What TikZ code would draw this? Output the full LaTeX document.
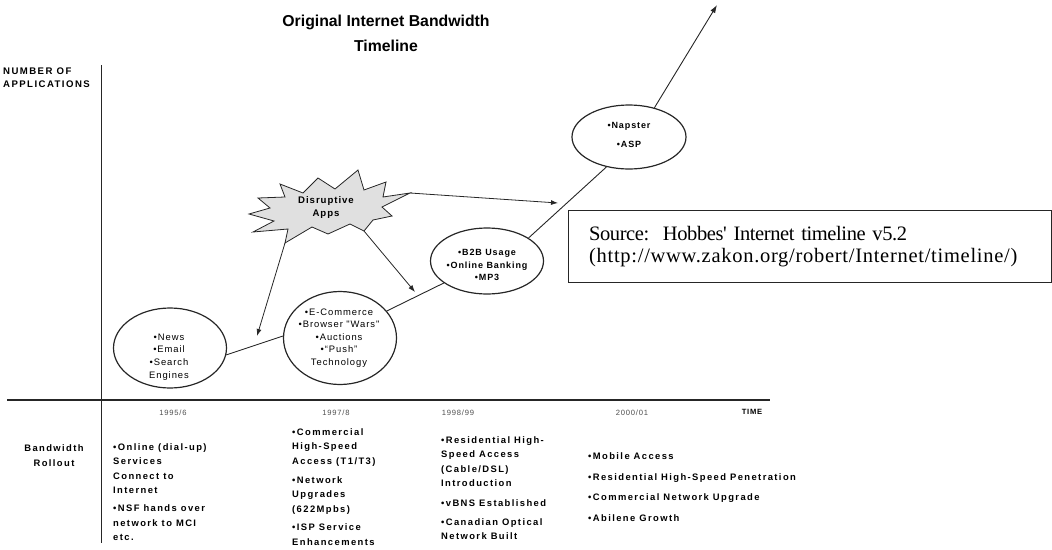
\documentclass[tikz,border=0pt]{standalone}
\usepackage{fontspec}
\setmainfont{Liberation Sans}
\newfontfamily\sourcefont{Liberation Serif}[LetterSpace=3.5]
\newfontfamily\spacedsans{Liberation Sans}[LetterSpace=10]
\newfontfamily\widesans{Liberation Sans}[LetterSpace=15]
\usetikzlibrary{shapes.geometric,arrows.meta}

\tikzset{
  ink/.style={draw=black!85},
  bubble/.style={ellipse, ink, line width=1.2pt, inner sep=0pt},
  bubbletext/.style={align=center, inner sep=0pt, font=\spacedsans\fontsize{9.4}{12.6}\selectfont},
  boldbubbletext/.style={align=center, inner sep=0pt, font=\spacedsans\bfseries\fontsize{9}{12.5}\selectfont},
  trend/.style={ink, line width=0.9pt},
  pointer/.style={ink, line width=0.8pt, -{Latex[length=7pt,width=5pt]}},
  yearlabel/.style={inner sep=0pt, text=black!70, font=\spacedsans\fontsize{7.6}{9}\selectfont},
  rollout/.style={anchor=north west, align=left, inner sep=0pt,
    font=\widesans\bfseries\fontsize{9.4}{14.4}\selectfont},
}

\begin{document}
\begin{tikzpicture}[x=1pt, y=-1pt]
\useasboundingbox (0,0) rectangle (1052,549);

% title
\node[align=center, inner sep=0pt, font=\bfseries\fontsize{15.8}{25}\selectfont] (title) at (386,33) {Original Internet Bandwidth\\Timeline};

% axes
\node[anchor=north west, align=left, inner sep=0pt, font=\widesans\bfseries\fontsize{9.6}{13}\selectfont] (ylabel) at (3,67.5) {NUMBER OF\\APPLICATIONS};
\draw[ink, line width=0.9pt] (101,65) -- (101,543);
\draw[ink, line width=2pt] (7,400) -- (770,400);

% application bubbles
\node[bubble, minimum width=113pt, minimum height=80pt] (e1) at (170,348) {};
\node[bubbletext] (t1) at (169,357) {\textbullet News\\\textbullet Email\\\textbullet Search\\Engines};

\node[bubble, minimum width=113pt, minimum height=93pt] (e2) at (340,338) {};
\node[bubbletext] (t2) at (339,338) {\textbullet E-Commerce\\\textbullet Browser "Wars"\\\textbullet Auctions\\\textbullet “Push”\\Technology};

\node[bubble, minimum width=113pt, minimum height=66pt] (e3) at (487,261) {};
\node[boldbubbletext] (t3) at (487,265) {\textbullet B2B Usage\\\textbullet Online Banking\\\textbullet MP3};

\node[bubble, minimum width=114pt, minimum height=64pt] (e4) at (629,137) {};
\node[boldbubbletext, font=\spacedsans\bfseries\fontsize{9}{19}\selectfont] (t4) at (629,134.5) {\textbullet Napster\\\textbullet ASP};

% growth line
\coordinate (top) at (717,5);
\draw[trend] (e1.-7) -- (e2.178);
\draw[trend] (e2.30) -- (e3.207);
\draw[trend] (e3.29) -- (e4.233);
\draw[trend, -{Latex[length=8pt,width=5.5pt]}] (e4.49) -- (top);

% disruptive apps burst
\coordinate (b1) at (280,184);
\coordinate (b2) at (318,178);
\coordinate (b3) at (358,170);
\coordinate (b4) at (386,182);
\coordinate (b5) at (410,193);
\coordinate (b6) at (392,216);
\coordinate (b7) at (364,231);
\coordinate (b8) at (328,234);
\coordinate (b9) at (285,243);
\coordinate (b10) at (253,232);
\coordinate (b11) at (249,214);
\coordinate (b12) at (258,198);
\draw[ink, fill=black!12, line width=0.8pt, line join=miter]
  (b1) -- (303,193) -- (b2) -- (335,189) -- (b3) -- (364,190) -- (b4) -- (383,197)
  -- (b5) -- (382,207) -- (b6) -- (373,220) -- (b7) -- (350,224) -- (b8) -- (312,227)
  -- (b9) -- (288,229) -- (b10) -- (274,221) -- (b11) -- (270,208) -- (b12) -- (285,197) -- cycle;
\node[align=center, inner sep=0pt, font=\spacedsans\bfseries\fontsize{9.6}{13}\selectfont] (burst) at (326,208) {Disruptive\\Apps};

\coordinate (hit1) at (257,336);
\coordinate (hit2) at (415,292);
\coordinate (hit3) at (558,203);
\draw[pointer] (b9) -- (hit1);
\draw[pointer] (b7) -- (hit2);
\draw[pointer] (b5) -- (hit3);

% source box
\node[draw=black!85, line width=1.2pt, anchor=north west, minimum width=483pt, minimum height=72pt,
      align=left, inner xsep=21pt, text width=441pt, font=\sourcefont\fontsize{20.5}{22}\selectfont] (source) at (567.5,210)
  {{\addfontfeature{LetterSpace=-2}Source:\ \ Hobbes' Internet timeline v5.2}\\(http://www.zakon.org/robert/Internet/timeline/)};

% time axis labels
\node[yearlabel] (y1) at (173,413) {1995/6};
\node[yearlabel] (y2) at (336,413) {1997/8};
\node[yearlabel] (y3) at (458,413) {1998/99};
\node[yearlabel] (y4) at (632,413) {2000/01};
\node[yearlabel, text=black, font=\spacedsans\bfseries\fontsize{7.6}{9}\selectfont] (tl) at (752,412) {TIME};

% bandwidth rollout rows
\node[align=center, inner sep=0pt, font=\widesans\bfseries\fontsize{9.4}{14.4}\selectfont] (rl) at (54,455.5) {Bandwidth\\Rollout};
\node[rollout] (c1) at (113,443.5) {\textbullet Online (dial-up)\\Services\\Connect to\\Internet\\[3.8pt]\textbullet NSF hands over\\network to MCI\\etc.};
\node[rollout] (c2) at (292,428.5) {\textbullet Commercial\\High-Speed\\Access (T1/T3)\\[4.5pt]\textbullet Network\\Upgrades\\(622Mpbs)\\[4.5pt]\textbullet ISP Service\\Enhancements};
\node[rollout] (c3) at (441,436.5) {\textbullet Residential High-\\Speed Access\\(Cable/DSL)\\Introduction\\[5.5pt]\textbullet vBNS Established\\[4.5pt]\textbullet Canadian Optical\\Network Built};
\node[rollout, font=\widesans\bfseries\fontsize{9.4}{20.7}\selectfont] (c4) at (588,452.5) {\textbullet Mobile Access\\\textbullet Residential High-Speed Penetration\\\textbullet Commercial Network Upgrade\\\textbullet Abilene Growth};
\end{tikzpicture}
\end{document}
